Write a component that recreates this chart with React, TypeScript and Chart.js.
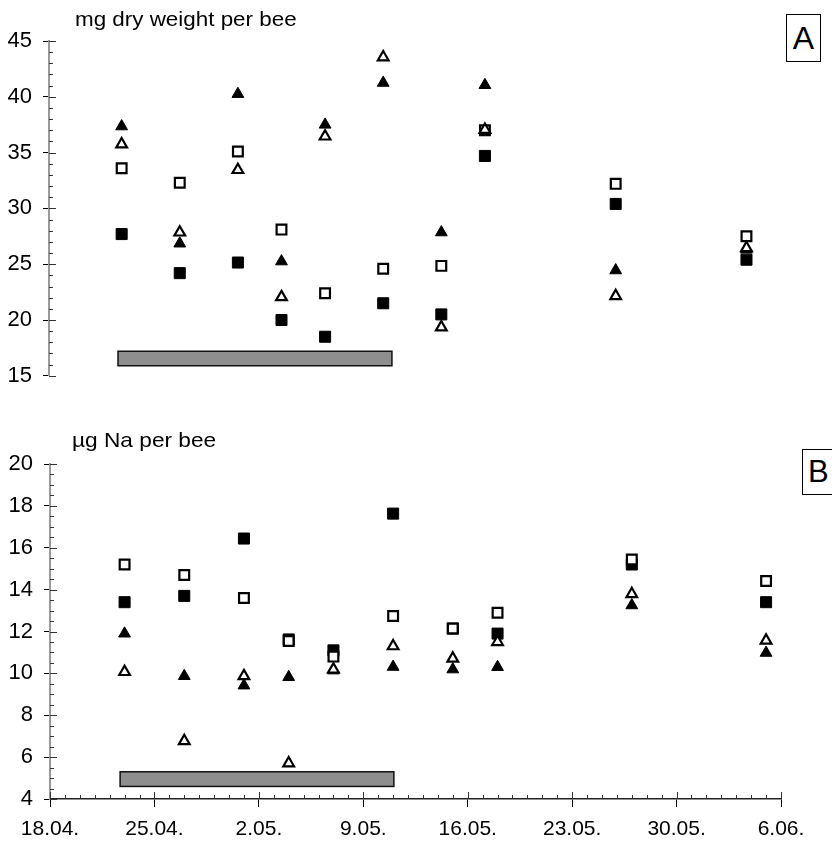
import React, { useEffect, useRef } from "react";
import { Chart, registerables } from "chart.js";

Chart.register(...registerables);

const FONT = '"Liberation Sans", Arial, Helvetica, sans-serif';

// sampling dates, as days after 18.04.
const DAYS = [5, 9, 13, 16, 19, 23, 27, 30, 39, 48];
const X_TICK_LABELS = ["18.04.", "25.04.", "2.05.", "9.05.", "16.05.", "23.05.", "30.05.", "6.06."];

// Panel A: mg dry weight per bee
const A_FILLED_TRI = [37.35, 26.85, 40.25, 25.25, 37.5, 41.25, 27.85, 41.05, 24.45, 26.3];
const A_OPEN_TRI = [35.75, 27.85, 33.45, 22.05, 36.45, 43.55, 19.35, 37.05, 22.15, 26.45];
const A_OPEN_SQ = [33.6, 32.3, 35.1, 28.1, 22.4, 24.6, 24.85, 37.0, 32.2, 27.5];
const A_FILLED_SQ = [27.7, 24.2, 25.15, 20.0, 18.5, 21.5, 20.5, 34.7, 30.4, 25.4];
const A_BAND = [4.75, 23.6, 15.9, 17.2]; // x from, x to, y from, y to

// Panel B: µg Na per bee
const B_FILLED_TRI = [11.9, 9.87, 9.42, 9.82, 10.14, 10.31, 10.19, 10.3, 13.25, 10.98];
const B_OPEN_TRI = [10.07, 6.77, 9.87, 5.71, 10.19, 11.3, 10.71, 11.5, 13.79, 11.57];
const B_OPEN_SQ = [15.2, 14.7, 13.6, 11.55, 10.8, 12.74, 12.14, 12.9, 15.44, 14.41];
const B_FILLED_SQ = [13.4, 13.7, 16.44, 11.62, 11.1, 17.63, 12.14, 11.9, 15.2, 13.4];
const B_BAND = [4.7, 23.05, 4.6, 5.3];

function ds(label: string, values: number[], style: string, filled: boolean) {
  const isTri = style === "triangle";
  return {
    label,
    data: DAYS.map((d, i) => ({ x: d, y: values[i] })),
    pointStyle: style,
    pointRadius: isTri ? (filled ? 6.8 : 6.2) : filled ? 7.8 : 6.9,
    pointHoverRadius: isTri ? 6 : 7,
    pointBackgroundColor: filled ? "#000" : "#fff",
    pointBorderColor: "#000",
    pointBorderWidth: filled ? 1 : 2.2,
    showLine: false,
    clip: false as any,
  };
}

const decorPlugin = {
  id: "decor",
  beforeDatasetsDraw(chart: any, _args: any, opts: any) {
    const { ctx } = chart;
    const xs = chart.scales.x;
    const ys = chart.scales.y;
    const b = opts.band;
    if (b) {
      const x0 = xs.getPixelForValue(b[0]);
      const x1 = xs.getPixelForValue(b[1]);
      const y0 = ys.getPixelForValue(b[2]);
      const y1 = ys.getPixelForValue(b[3]);
      ctx.save();
      ctx.fillStyle = "#8e8e8e";
      ctx.fillRect(x0, y1, x1 - x0, y0 - y1);
      ctx.strokeStyle = "#111";
      ctx.lineWidth = 1.5;
      ctx.strokeRect(x0, y1, x1 - x0, y0 - y1);
      ctx.restore();
    }
  },
  afterDraw(chart: any, _args: any, opts: any) {
    const { ctx, chartArea } = chart;
    const ys = chart.scales.y;
    ctx.save();
    ctx.strokeStyle = "#333";
    ctx.lineWidth = 1;
    const yMin = ys.min, yMax = ys.max;
    const steps = Math.round((yMax - yMin) / opts.yMinor);
    for (let i = 0; i <= steps; i++) {
      const v = yMin + i * opts.yMinor;
      const py = Math.round(ys.getPixelForValue(v)) + 0.5;
      const major = Math.abs(v / opts.yMajor - Math.round(v / opts.yMajor)) < 1e-6;
      ctx.beginPath();
      ctx.moveTo(chartArea.left, py);
      ctx.lineTo(chartArea.left + (major ? 7 : 4), py);
      ctx.stroke();
    }
    if (opts.xAxis) {
      const xs = chart.scales.x;
      for (let d = xs.min; d <= xs.max; d += 1) {
        const px = Math.round(xs.getPixelForValue(d)) + 0.5;
        const major = d % 7 === 0;
        ctx.beginPath();
        ctx.moveTo(px, chartArea.bottom);
        ctx.lineTo(px, chartArea.bottom - (major ? 7 : 4));
        ctx.stroke();
      }
    }
    ctx.restore();
  },
};

function makeConfig(panel: "A" | "B"): any {
  const isA = panel === "A";
  return {
    type: "scatter",
    data: {
      datasets: isA
        ? [
            ds("open triangle", A_OPEN_TRI, "triangle", false),
            ds("filled triangle", A_FILLED_TRI, "triangle", true),
            ds("open square", A_OPEN_SQ, "rect", false),
            ds("filled square", A_FILLED_SQ, "rect", true),
          ]
        : [
            ds("open triangle", B_OPEN_TRI, "triangle", false),
            ds("filled triangle", B_FILLED_TRI, "triangle", true),
            ds("open square", B_OPEN_SQ, "rect", false),
            ds("filled square", B_FILLED_SQ, "rect", true),
          ],
    },
    options: {
      responsive: false,
      animation: false,
      events: [],
      layout: {
        padding: isA
          ? { top: 41, bottom: 23, left: 0, right: 71 }
          : { top: 64, bottom: 0, left: 0, right: 51 },
      },
      plugins: {
        legend: { display: false },
        tooltip: { enabled: false },
        decor: isA
          ? { band: A_BAND, yMinor: 1, yMajor: 5, xAxis: false }
          : { band: B_BAND, yMinor: 0.5, yMajor: 2, xAxis: true },
      },
      scales: {
        x: {
          type: "linear",
          display: !isA,
          min: 0,
          max: 49,
          ticks: {
            stepSize: 7,
            autoSkip: false,
            maxRotation: 0,
            padding: 10,
            color: "#000",
            font: { family: FONT, size: 21 },
            callback: (_v: any, i: number) => X_TICK_LABELS[i],
          },
          grid: { drawOnChartArea: false, tickLength: 8, color: "#000", lineWidth: 1 },
          border: { color: "#222", width: 1.5 },
          afterFit: (s: any) => {
            s.height = isA ? 0 : 45;
          },
        },
        y: {
          type: "linear",
          min: isA ? 15 : 4,
          max: isA ? 45 : 20,
          ticks: {
            stepSize: isA ? 5 : 2,
            padding: 11,
            color: "#000",
            font: { family: FONT, size: 22 },
          },
          grid: { drawOnChartArea: false, tickLength: 6, color: "#000", lineWidth: 1 },
          border: { color: "#9a9a9a", width: 2 },
          afterFit: (s: any) => {
            s.width = isA ? 49 : 50;
          },
        },
      },
    },
    plugins: [decorPlugin],
  };
}

export default function App() {
  const refA = useRef<HTMLCanvasElement>(null);
  const refB = useRef<HTMLCanvasElement>(null);

  useEffect(() => {
    const a = new Chart(refA.current as HTMLCanvasElement, makeConfig("A"));
    const b = new Chart(refB.current as HTMLCanvasElement, makeConfig("B"));
    return () => {
      a.destroy();
      b.destroy();
    };
  }, []);

  const boxStyle: React.CSSProperties = {
    position: "absolute",
    border: "1.5px solid #000",
    boxSizing: "border-box",
    fontFamily: FONT,
    color: "#000",
    background: "#fff",
    display: "flex",
    alignItems: "center",
  };

  return (
    <div
      style={{
        position: "absolute",
        left: 0,
        top: 0,
        width: 832,
        height: 844,
        overflow: "hidden",
        background: "#fff",
      }}
    >
      <canvas
        ref={refA}
        width={832}
        height={400}
        style={{ position: "absolute", left: 0, top: 0, width: 832, height: 400 }}
      />
      <canvas
        ref={refB}
        width={832}
        height={444}
        style={{ position: "absolute", left: 0, top: 400, width: 832, height: 444 }}
      />
      <div
        style={{
          position: "absolute",
          left: 75,
          top: 9,
          fontFamily: FONT,
          fontSize: 20,
          lineHeight: "20px",
          whiteSpace: "nowrap",
          transform: "scaleX(1.12)",
          transformOrigin: "left top",
          color: "#000",
        }}
      >
        mg dry weight per bee
      </div>
      <div
        style={{
          position: "absolute",
          left: 72,
          top: 429,
          fontFamily: FONT,
          fontSize: 21,
          lineHeight: "21px",
          whiteSpace: "nowrap",
          transform: "scaleX(1.08)",
          transformOrigin: "left top",
          color: "#000",
        }}
      >
        µg Na per bee
      </div>
      <div
        style={{
          ...boxStyle,
          left: 786,
          top: 14,
          width: 35,
          height: 48,
          justifyContent: "center",
          fontSize: 32,
        }}
      >
        A
      </div>
      <div
        style={{
          ...boxStyle,
          left: 802,
          top: 449,
          width: 40,
          height: 46,
          paddingLeft: 5,
          fontSize: 31,
        }}
      >
        B
      </div>
    </div>
  );
}
